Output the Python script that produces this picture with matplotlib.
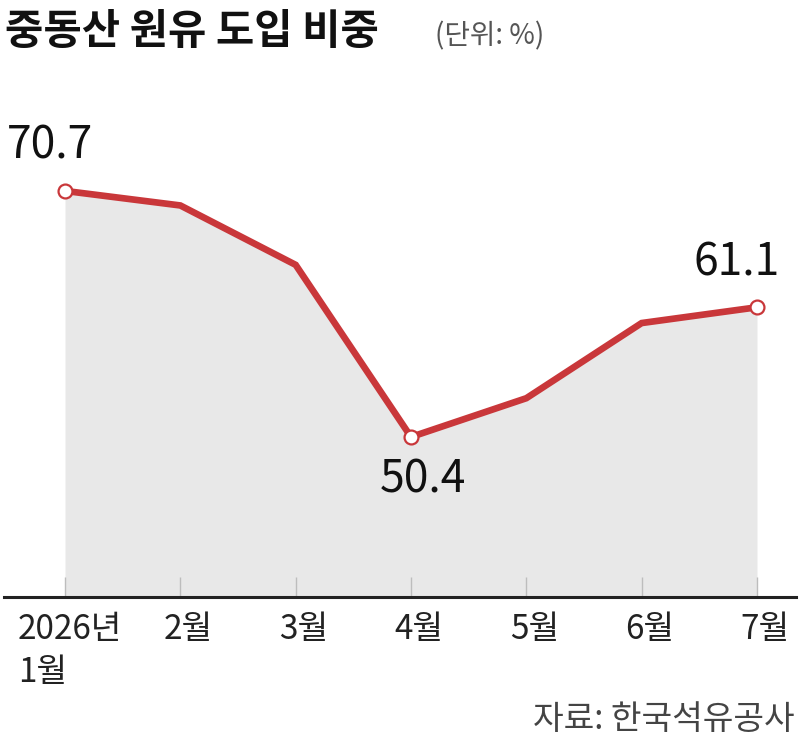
import matplotlib.pyplot as plt

plt.rcParams['font.family'] = ['Noto Sans CJK KR', 'DejaVu Sans']

# data
months = ["2026년\n1월", "2월", "3월", "4월", "5월", "6월", "7월"]
share = [70.7, 69.5, 64.6, 50.4, 53.6, 59.8, 61.1]
labeled = {0: "70.7", 3: "50.4", 6: "61.1"}

RED = '#c9373a'
FILL = '#e8e8e8'

W, H = 800, 752
fig = plt.figure(figsize=(W / 100, H / 100), dpi=100)
fig.patch.set_facecolor('white')

# axes: baseline at y=597px, top at y=100px; x: 1월 at 65px, 7월 at 757px
ax = fig.add_axes([0, 1 - 597 / H, 1, (597 - 100) / H])
x = list(range(len(months)))
step = (757 - 65) / 6
ax.set_xlim(-65 / step, 6 + (800 - 757) / step)
ymin = 37.2
ax.set_ylim(ymin, 78.2)

ax.fill_between(x, share, ymin, color=FILL, lw=0, zorder=1)
ax.plot(x, share, color=RED, lw=4.8, solid_joinstyle='miter', zorder=3)
for i in labeled:
    ax.plot(x[i], share[i], 'o', ms=10, mfc='white', mec=RED, mew=1.6, zorder=4)

# tick marks inside the fill
ax.vlines(x, ymin, ymin + 1.65, color='#bdbdbd', lw=1, zorder=2)
ax.axhline(ymin, xmin=4 / W, xmax=796 / W, color='#222222', lw=2.2, zorder=5,
           clip_on=False)

for sp in ax.spines.values():
    sp.set_visible(False)
ax.set_xticks([])
ax.set_yticks([])

# value labels
ax.annotate(labeled[0], (x[0], share[0]), xytext=(-58, 22), textcoords='offset pixels',
            fontsize=32, ha='left', va='bottom', color='#111111')
ax.annotate(labeled[3], (x[3], share[3]), xytext=(12, -20), textcoords='offset pixels',
            fontsize=32, ha='center', va='top', color='#111111')
ax.annotate(labeled[6], (x[6], share[6]), xytext=(-20, 22), textcoords='offset pixels',
            fontsize=32, ha='center', va='bottom', color='#111111')

# month labels
for i, m in enumerate(months):
    if i == 0:
        ax.annotate(m, (x[i], ymin), xytext=(-47, -15), textcoords='offset pixels',
                    fontsize=24, ha='left', va='top', color='#222222',
                    linespacing=1.3)
    else:
        ax.annotate(m, (x[i], ymin), xytext=(8, -15), textcoords='offset pixels',
                    fontsize=24, ha='center', va='top', color='#222222')

# title and notes
fig.text(5 / W, 1 - 32 / H, "중동산 원유 도입 비중", fontsize=30, fontweight='bold',
         ha='left', va='center', color='#111111')
fig.text(435 / W, 1 - 36 / H, "(단위: %)", fontsize=20, ha='left', va='center',
         color='#555555')
fig.text(795 / W, 1 - 720 / H, "자료: 한국석유공사", fontsize=24, ha='right',
         va='center', color='#444444')

fig.savefig("out.png", dpi=100)
